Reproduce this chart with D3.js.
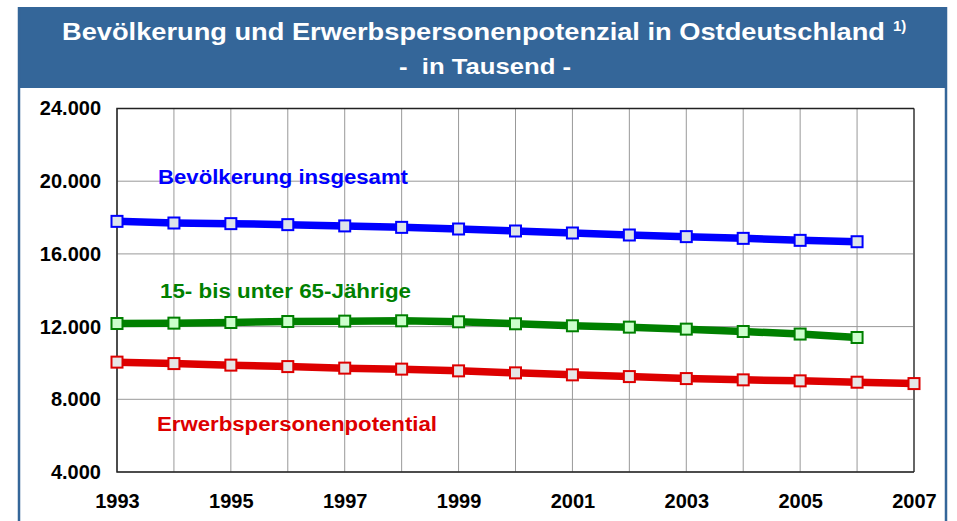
<!DOCTYPE html>
<html>
<head>
<meta charset="utf-8">
<script src="https://cdn.jsdelivr.net/npm/d3@7/dist/d3.min.js"></script>
<style>
  body { margin: 0; background: #fff; }
  svg { display: block; font-family: Arial, "Liberation Sans", sans-serif; }
</style>
</head>
<body>
<div id="chart"></div>
<script>
// data (in thousands)
let years = d3.range(1993, 2008);
let populationTotal = [17790, 17700, 17665, 17610, 17540, 17460, 17370, 17260, 17150, 17040, 16950, 16855, 16745, 16670];
let workingAge = [12170, 12190, 12225, 12280, 12300, 12320, 12265, 12155, 12045, 11970, 11860, 11730, 11590, 11400];
let labourPotential = [10045, 9965, 9880, 9800, 9715, 9660, 9565, 9455, 9345, 9250, 9140, 9070, 9015, 8940, 8865];
let yTicks = [4000, 8000, 12000, 16000, 20000, 24000];
let xTickLabels = [1993, 1995, 1997, 1999, 2001, 2003, 2005, 2007];

let series = [
    {name: "Bevölkerung insgesamt", values: populationTotal, color: "#0000ff", fill: "#dde3ea", labelX: 158, labelY: 184, labelW: 250},
    {name: "15- bis unter 65-Jährige", values: workingAge, color: "#008000", fill: "#ccffcc", labelX: 160, labelY: 298, labelW: 251},
    {name: "Erwerbspersonenpotential", values: labourPotential, color: "#dd0000", fill: "#e6e6e6", labelX: 157, labelY: 431, labelW: 280}
];

let totalWidth = 957, totalHeight = 521;
let plot = {left: 117, right: 914, top: 108.5, bottom: 472};

let svg = d3.select("#chart").append("svg")
    .attr("width", totalWidth)
    .attr("height", totalHeight);

// frame + header
let headerColor = "#346699";
svg.append("rect")
    .attr("x", 18).attr("y", 7)
    .attr("width", 928).attr("height", 81)
    .attr("fill", headerColor);
svg.append("line")
    .attr("x1", 19).attr("x2", 19).attr("y1", 7).attr("y2", totalHeight)
    .attr("stroke", headerColor).attr("stroke-width", 2.5);
svg.append("line")
    .attr("x1", 946).attr("x2", 946).attr("y1", 7).attr("y2", totalHeight)
    .attr("stroke", headerColor).attr("stroke-width", 2.5);

svg.append("text")
    .attr("x", 62).attr("y", 40)
    .attr("fill", "#fff")
    .attr("font-weight", "bold")
    .attr("font-size", 23)
    .attr("textLength", 823)
    .attr("lengthAdjust", "spacingAndGlyphs")
    .text("Bevölkerung und Erwerbspersonenpotenzial in Ostdeutschland");
svg.append("text")
    .attr("x", 893).attr("y", 31)
    .attr("fill", "#fff")
    .attr("font-weight", "bold")
    .attr("font-size", 15)
    .text("1)");

svg.append("text")
    .attr("x", 399).attr("y", 74)
    .attr("fill", "#fff")
    .attr("font-weight", "bold")
    .attr("font-size", 22)
    .attr("xml:space", "preserve")
    .attr("textLength", 172)
    .attr("lengthAdjust", "spacingAndGlyphs")
    .text("-  in Tausend -");

// scales
let x = d3.scaleLinear()
    .domain([1993, 2007])
    .range([plot.left, plot.right]);
let y = d3.scaleLinear()
    .domain([4000, 24000])
    .range([plot.bottom, plot.top]);

// grid
svg.append("g")
    .selectAll("line")
    .data(years)
    .enter().append("line")
    .attr("x1", d => x(d)).attr("x2", d => x(d))
    .attr("y1", plot.top).attr("y2", plot.bottom)
    .attr("stroke", "#999").attr("stroke-width", 1);
svg.append("g")
    .selectAll("line")
    .data(yTicks)
    .enter().append("line")
    .attr("x1", plot.left).attr("x2", plot.right)
    .attr("y1", d => y(d)).attr("y2", d => y(d))
    .attr("stroke", "#999").attr("stroke-width", 1);

// plot border
svg.append("line")
    .attr("x1", plot.right).attr("x2", plot.right).attr("y1", plot.top).attr("y2", plot.bottom)
    .attr("stroke", "#666").attr("stroke-width", 2);
svg.append("path")
    .attr("d", "M" + plot.right + "," + plot.top + "H" + plot.left + "V" + plot.bottom + "H" + plot.right)
    .attr("fill", "none")
    .attr("stroke", "#222").attr("stroke-width", 1.5);

// axes
let yAxis = d3.axisLeft(y)
    .tickValues(yTicks)
    .tickSize(0)
    .tickPadding(16)
    .tickFormat(d => d3.format(",")(d).replace(",", "."));
let yGroup = svg.append("g")
    .attr("transform", "translate(" + plot.left + ",0)")
    .call(yAxis);

let xAxis = d3.axisBottom(x)
    .tickValues(xTickLabels)
    .tickSize(0)
    .tickPadding(22)
    .tickFormat(d3.format("d"));
let xGroup = svg.append("g")
    .attr("transform", "translate(0," + plot.bottom + ")")
    .call(xAxis);

[yGroup, xGroup].forEach(g => {
    g.select(".domain").remove();
    g.selectAll("text")
        .attr("fill", "#000")
        .attr("font-family", "Arial, 'Liberation Sans', sans-serif")
        .attr("font-weight", "bold")
        .attr("font-size", 20);
});

// lines
let line = d3.line()
    .x((d, i) => x(years[i]))
    .y(d => y(d))
    .curve(d3.curveLinear);

series.forEach(s => {
    svg.append("path")
        .datum(s.values)
        .attr("d", line)
        .attr("fill", "none")
        .attr("stroke", s.color)
        .attr("stroke-width", 7.5)
        .attr("stroke-linejoin", "round");

    svg.append("g")
        .selectAll("rect")
        .data(s.values)
        .enter().append("rect")
        .attr("x", (d, i) => x(years[i]) - 5.5)
        .attr("y", d => y(d) - 5.5)
        .attr("width", 11).attr("height", 11)
        .attr("fill", s.fill)
        .attr("stroke", s.color)
        .attr("stroke-width", 2);

    svg.append("text")
        .attr("x", s.labelX).attr("y", s.labelY)
        .attr("fill", s.color)
        .attr("font-weight", "bold")
        .attr("font-size", 20)
        .attr("textLength", s.labelW)
        .attr("lengthAdjust", "spacingAndGlyphs")
        .text(s.name);
});
</script>
</body>
</html>
